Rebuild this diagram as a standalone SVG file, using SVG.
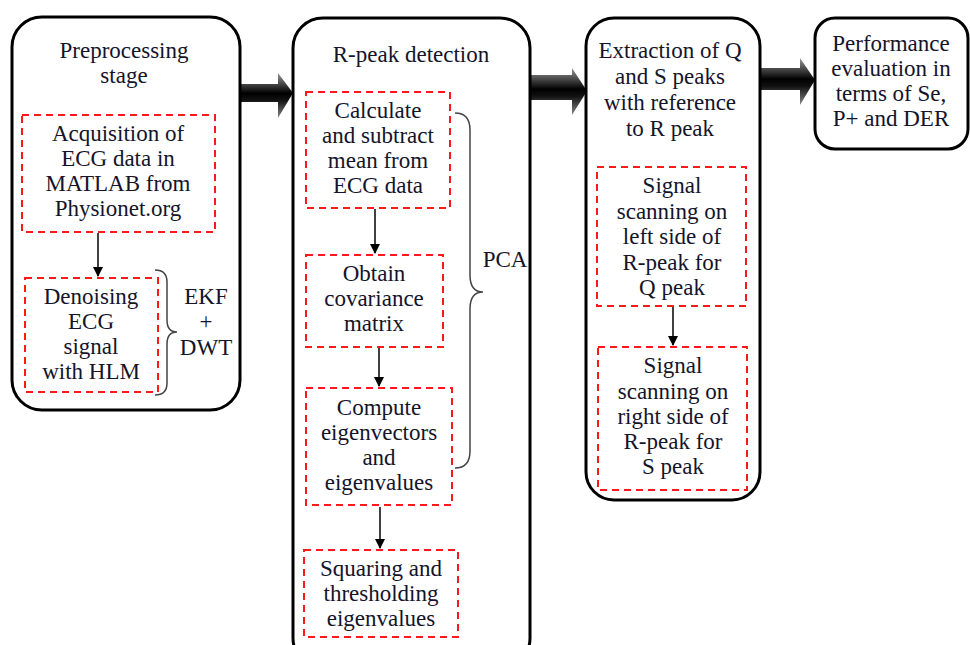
<svg xmlns="http://www.w3.org/2000/svg" width="970" height="645" viewBox="0 0 970 645">
<style>
.stage{fill:#fff;stroke:#000;stroke-width:3}
.dash{fill:none;stroke:#ff1a1a;stroke-width:2;stroke-dasharray:7 5}
.t{font-family:'Liberation Serif','Times New Roman',serif;font-size:23px;fill:#14142a;text-anchor:middle}
.conn{stroke:#000;stroke-width:1.5;fill:none}
.brace{fill:none;stroke:#444;stroke-width:1.5}
</style>
<defs>
<marker id="ah" markerWidth="10" markerHeight="10" refX="9" refY="5" orient="auto" markerUnits="userSpaceOnUse">
<path d="M0,0 L10,5 L0,10 Z" fill="#000"/>
</marker>
<linearGradient id="bg" x1="0" y1="0" x2="0" y2="1">
<stop offset="0" stop-color="#999"/>
<stop offset="0.45" stop-color="#000"/>
<stop offset="0.6" stop-color="#111"/>
<stop offset="1" stop-color="#888"/>
</linearGradient>
</defs>

<g id="bigarrows">
<path d="M240,84 L278,84 L278,73 L293,93 L278,118 L278,102 L240,102 Z" fill="url(#bg)"/>
<path d="M530,75 L572,75 L572,68 L587,91 L572,115 L572,100 L530,100 Z" fill="url(#bg)"/>
<path d="M760,68 L800,68 L800,58 L815,80 L800,105 L800,90 L760,90 Z" fill="url(#bg)"/>
</g>

<g id="stage1" class="t">
<rect class="stage" x="12" y="17" width="228" height="393" rx="30"/>
<text x="124" y="58">Preprocessing</text>
<text x="124" y="83">stage</text>
</g>
<g id="acq" class="t">
<rect class="dash" x="22" y="115" width="193" height="117"/>
<text x="118" y="141">Acquisition of</text>
<text x="118" y="166">ECG data in</text>
<text x="118" y="191">MATLAB from</text>
<text x="118" y="216">Physionet.org</text>
</g>
<g id="denoise" class="t">
<rect class="dash" x="25" y="278" width="133" height="114"/>
<text x="91" y="304">Denoising</text>
<text x="91" y="329">ECG</text>
<text x="91" y="354">signal</text>
<text x="91" y="379">with HLM</text>
</g>
<g id="ekf" class="t">
<path class="brace" d="M155,270 Q167,270 167,282 L167,320 Q167,332 177,332 Q167,332 167,344 L167,383 Q167,395 155,395"/>
<text x="206" y="304">EKF</text>
<text x="206" y="329">+</text>
<text x="206" y="355">DWT</text>
</g>

<g id="stage2" class="t">
<rect class="stage" x="293" y="18" width="237" height="650" rx="30"/>
<text x="411" y="62">R-peak detection</text>
</g>
<g id="mean" class="t">
<rect class="dash" x="306" y="92" width="144" height="116"/>
<text x="378" y="118">Calculate</text>
<text x="378" y="143">and subtract</text>
<text x="378" y="168">mean from</text>
<text x="378" y="193">ECG data</text>
</g>
<g id="cov" class="t">
<rect class="dash" x="306" y="255" width="137" height="92"/>
<text x="374" y="281">Obtain</text>
<text x="374" y="306">covariance</text>
<text x="374" y="331">matrix</text>
</g>
<g id="eig" class="t">
<rect class="dash" x="306" y="388" width="146" height="117"/>
<text x="379" y="415">Compute</text>
<text x="379" y="440">eigenvectors</text>
<text x="379" y="465">and</text>
<text x="379" y="490">eigenvalues</text>
</g>
<g id="sq" class="t">
<rect class="dash" x="304" y="550" width="154" height="87"/>
<text x="381" y="576">Squaring and</text>
<text x="381" y="601">thresholding</text>
<text x="381" y="626">eigenvalues</text>
</g>
<g id="pca" class="t">
<path class="brace" d="M455,113 Q470,113 470,130 L470,275 Q470,292 483,292 Q470,292 470,309 L470,451 Q470,468 455,468"/>
<text x="505" y="267">PCA</text>
</g>

<g id="stage3" class="t">
<rect class="stage" x="586" y="18" width="174" height="482" rx="28"/>
<text x="670" y="58">Extraction of Q</text>
<text x="670" y="84">and S peaks</text>
<text x="670" y="110">with reference</text>
<text x="670" y="136">to R peak</text>
</g>
<g id="qscan" class="t">
<rect class="dash" x="597" y="167" width="149" height="139"/>
<text x="672" y="193">Signal</text>
<text x="672" y="219">scanning on</text>
<text x="672" y="244">left side of</text>
<text x="672" y="270">R-peak for</text>
<text x="672" y="295">Q peak</text>
</g>
<g id="sscan" class="t">
<rect class="dash" x="598" y="347" width="149" height="143"/>
<text x="673" y="373">Signal</text>
<text x="673" y="399">scanning on</text>
<text x="673" y="424">right side of</text>
<text x="673" y="449">R-peak for</text>
<text x="673" y="474">S peak</text>
</g>

<g id="stage4" class="t">
<rect class="stage" x="815" y="18" width="153" height="131" rx="20"/>
<text x="891" y="51">Performance</text>
<text x="891" y="76">evaluation in</text>
<text x="891" y="101">terms of Se,</text>
<text x="891" y="126">P+ and DER</text>
</g>

<g id="connectors">
<line class="conn" x1="98" y1="233" x2="98" y2="276" marker-end="url(#ah)"/>
<line class="conn" x1="375" y1="209" x2="375" y2="253" marker-end="url(#ah)"/>
<line class="conn" x1="379" y1="348" x2="379" y2="386" marker-end="url(#ah)"/>
<line class="conn" x1="380" y1="507" x2="380" y2="548" marker-end="url(#ah)"/>
<line class="conn" x1="673" y1="307" x2="673" y2="345" marker-end="url(#ah)"/>
</g>
</svg>
